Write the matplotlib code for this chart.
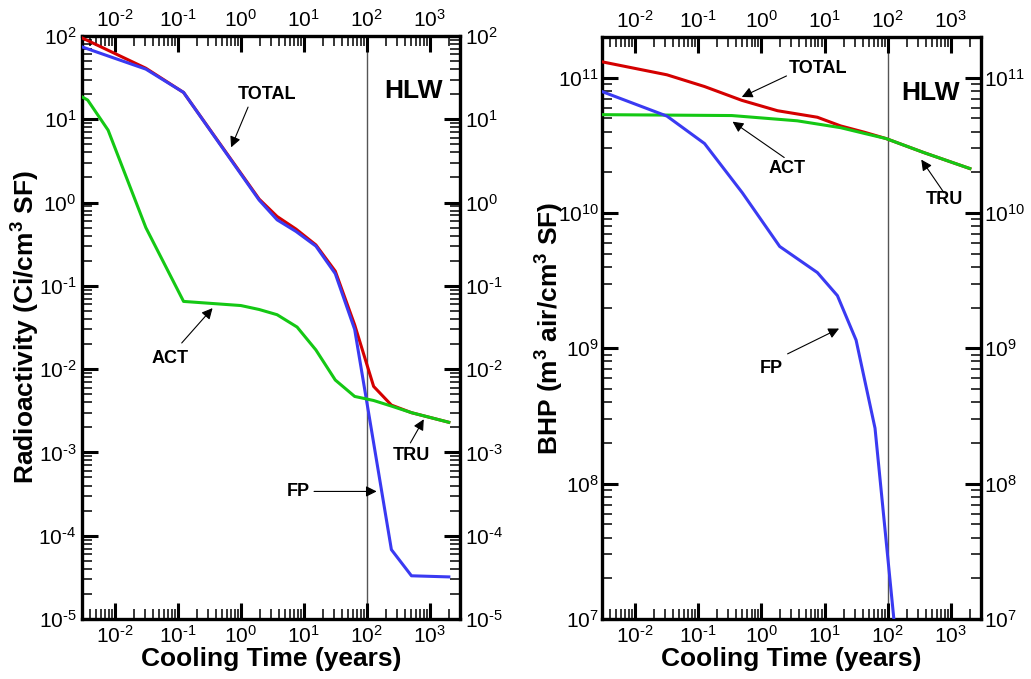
import numpy as np
import matplotlib
matplotlib.use("Agg")
import matplotlib.pyplot as plt
from matplotlib.ticker import LogLocator, NullFormatter, FuncFormatter

plt.rcParams['font.family'] = ['Liberation Sans', 'DejaVu Sans']
plt.rcParams['mathtext.fontset'] = 'custom'
plt.rcParams['mathtext.rm'] = 'Liberation Sans'
plt.rcParams['mathtext.it'] = 'Liberation Sans:italic'
plt.rcParams['mathtext.bf'] = 'Liberation Sans:bold'
plt.rcParams['mathtext.default'] = 'regular'

# ---- radioactivity (Ci/cm3 SF) ----
ra_total_t = [0.003, 0.031, 0.123, 1.95, 3.76, 7.5, 15.5, 31.5, 64, 128, 245, 510, 2000]
ra_total = [95, 41, 21, 1.1, 0.68, 0.48, 0.31, 0.15, 0.034, 0.0062, 0.0037, 0.0030, 0.0023]
ra_fp_t = [0.003, 0.031, 0.123, 1.95, 3.76, 7.5, 15.5, 31.5, 64, 128, 245, 510, 2000]
ra_fp = [74, 40, 21, 1.07, 0.62, 0.45, 0.30, 0.14, 0.030, 0.0013, 6.8e-5, 3.3e-5, 3.2e-5]
ra_act_t = [0.003, 0.0037, 0.0078, 0.031, 0.123, 1.0, 1.95, 3.76, 7.8, 15.5, 31.5, 64, 128, 245, 510, 2000]
ra_act = [18.6, 17, 7.4, 0.50, 0.065, 0.058, 0.052, 0.045, 0.032, 0.017, 0.0074, 0.0047, 0.0042,
          0.0036, 0.0030, 0.0023]

# ---- biological hazard potential (m3 air/cm3 SF) ----
bhp_total_t = [0.003, 0.032, 0.126, 0.49, 1.8, 7.7, 18, 43, 94, 370, 2000]
bhp_total = [1.31e11, 1.05e11, 8.6e10, 6.8e10, 5.7e10, 5.1e10, 4.4e10, 3.95e10, 3.55e10, 2.8e10, 2.13e10]
bhp_act_t = [0.003, 0.34, 3.7, 18, 43, 94, 370, 2000]
bhp_act = [5.33e10, 5.25e10, 4.8e10, 4.27e10, 3.87e10, 3.55e10, 2.8e10, 2.13e10]
bhp_fp_t = [0.003, 0.032, 0.126, 0.5, 1.95, 7.7, 16, 31.6, 63, 128]
bhp_fp = [7.9e10, 5.2e10, 3.26e10, 1.41e10, 5.66e9, 3.63e9, 2.45e9, 1.15e9, 2.57e8, 9e6]

RED = '#d40000'
BLUE = '#3a3af2'
GREEN = '#14c814'

fig = plt.figure(figsize=(10.31, 6.79), dpi=100)
ax1 = fig.add_axes([0.0795, 0.0884, 0.3666, 0.8586])
ax2 = fig.add_axes([0.5839, 0.0884, 0.3676, 0.8572])


def pow10(v, pos):
    # hyphen instead of the wide minus, like the original labels
    return r'$10^{\text{%d}}$' % int(round(np.log10(v)))


def style_axes(ax, ylim, ypad):
    ax.set_xscale('log')
    ax.set_yscale('log')
    ax.set_xlim(3e-3, 3e3)
    ax.set_ylim(*ylim)
    for axis in (ax.xaxis, ax.yaxis):
        axis.set_major_locator(LogLocator(base=10, numticks=20))
        axis.set_minor_locator(LogLocator(base=10, subs=np.arange(2, 10), numticks=20))
        axis.set_major_formatter(FuncFormatter(pow10))
        axis.set_minor_formatter(NullFormatter())
    ax.tick_params(which='both', direction='in', top=True, right=True,
                   labeltop=True, labelright=True, labelsize=15)
    ax.tick_params(which='major', length=11.5, width=2.2)
    ax.tick_params(which='minor', length=7, width=1.1)
    ax.tick_params(axis='x', which='major', pad=4)
    ax.tick_params(axis='y', which='major', pad=ypad)
    for s in ax.spines.values():
        s.set_linewidth(2.4)
    ax.axvline(100, color='#555555', lw=1.0, zorder=1)
    ax.set_xlabel('Cooling Time (years)', fontsize=19, fontweight='bold')
    ax.xaxis.set_label_coords(0.5, -0.048)


arrow = dict(arrowstyle='-|>', color='black', lw=0.8, mutation_scale=16, shrinkA=0, shrinkB=0)
lab = dict(fontsize=13, fontweight='bold', ha='center', va='center')

# left panel
style_axes(ax1, (1e-5, 1e2), 4)
ax1.plot(ra_total_t, ra_total, color=RED, lw=2.2, zorder=3)
ax1.plot(ra_fp_t, ra_fp, color=BLUE, lw=2.2, zorder=4)
ax1.plot(ra_act_t, ra_act, color=GREEN, lw=2.2, zorder=5)
ax1.set_ylabel('Radioactivity (Ci/cm$^3$ SF)', fontsize=19, fontweight='bold')
ax1.yaxis.set_label_coords(-0.105, 0.5)
ax1.text(550, 22, 'HLW', fontsize=19, fontweight='bold', ha='center', va='center')
ax1.text(2.6, 20, 'TOTAL', **lab)
ax1.annotate('', xy=(0.70, 4.6), xytext=(1.3, 14), arrowprops=arrow)
ax1.text(0.074, 0.0136, 'ACT', **lab)
ax1.annotate('', xy=(0.355, 0.054), xytext=(0.115, 0.0206), arrowprops=arrow)
ax1.text(510, 9.3e-4, 'TRU', **lab)
ax1.annotate('', xy=(800, 2.5e-3), xytext=(490, 1.3e-3), arrowprops=arrow)
ax1.text(8.3, 3.4e-4, 'FP', **lab)
ax1.annotate('', xy=(143, 3.4e-4), xytext=(14.5, 3.4e-4), arrowprops=arrow)

# right panel
style_axes(ax2, (1e7, 2e11), 2)
ax2.plot(bhp_total_t, bhp_total, color=RED, lw=2.2, zorder=3)
ax2.plot(bhp_act_t, bhp_act, color=GREEN, lw=2.2, zorder=4)
ax2.plot(bhp_fp_t, bhp_fp, color=BLUE, lw=2.2, zorder=5)
ax2.set_ylabel('BHP (m$^3$ air/cm$^3$ SF)', fontsize=19, fontweight='bold')
ax2.yaxis.set_label_coords(-0.095, 0.5)
ax2.text(480, 7.7e10, 'HLW', fontsize=19, fontweight='bold', ha='center', va='center')
ax2.text(8, 1.16e11, 'TOTAL', **lab)
ax2.annotate('', xy=(0.49, 7.2e10), xytext=(2.5, 1.03e11), arrowprops=arrow)
ax2.text(2.6, 2.14e10, 'ACT', **lab)
ax2.annotate('', xy=(0.35, 4.73e10), xytext=(2.3, 2.57e10), arrowprops=arrow)
ax2.text(780, 1.26e10, 'TRU', **lab)
ax2.annotate('', xy=(340, 2.48e10), xytext=(780, 1.41e10), arrowprops=arrow)
ax2.text(1.45, 7.1e8, 'FP', **lab)
ax2.annotate('', xy=(17, 1.4e9), xytext=(2.6, 9.1e8), arrowprops=arrow)

fig.savefig('out.png', dpi=100)
